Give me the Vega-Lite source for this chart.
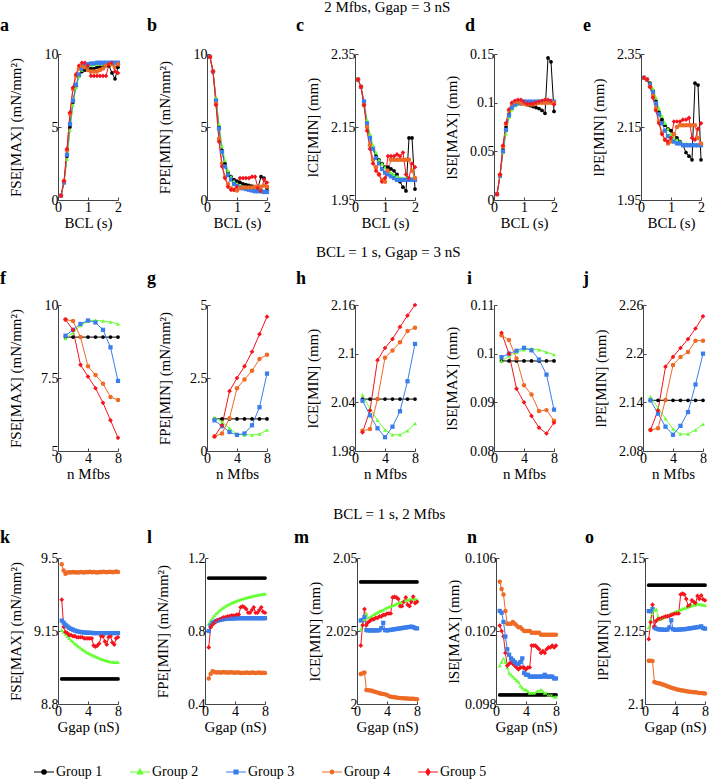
{
"$schema":"https://vega.github.io/schema/vega-lite/v6.json",
"background":"white",
"padding":{"left":0,"top":0,"right":0,"bottom":0},
"config":{
"view":{"stroke":null},
"font":"Liberation Serif, Times New Roman, serif",
"range":{"category":["#000000","#66FF33","#3A7DEB","#EE6A25","#F5141E"],"symbol":["circle","triangle-up","square","circle","diamond"]},
"axis":{"grid":false,"labelFont":"Liberation Serif, Times New Roman, serif","titleFont":"Liberation Serif, Times New Roman, serif","labelFontSize":14,"titleFontSize":15,"titleFontWeight":"normal","labelColor":"#000","titleColor":"#000","domainColor":"#444","tickColor":"#444","tickSize":-3,"labelPadding":3,"titlePadding":1,"labelExpr":"'' + datum.value","labelOverlap":false,"labelFlush":false},
"axisY":{"minExtent":32,"maxExtent":32,"titlePadding":3},
"line":{"strokeWidth":1},
"point":{"filled":true,"opacity":1},
"title":{"font":"Liberation Serif, Times New Roman, serif","fontSize":18,"fontWeight":"bold","anchor":"start","frame":"group","offset":10,"color":"#000"}
},
"datasets":{"d":[
{"p":"a","x":0.1,"g1":0.3,"g2":0.3,"g3":0.3,"g4":0.3,"g5":0.3},
{"p":"a","x":0.2,"g1":1.2,"g2":1.2,"g3":1.2,"g4":1.3,"g5":1.3},
{"p":"a","x":0.3,"g1":3.0,"g2":2.8,"g3":3.1,"g4":3.4,"g5":3.5},
{"p":"a","x":0.4,"g1":5.0,"g2":4.8,"g3":5.2,"g4":5.9,"g5":6.0},
{"p":"a","x":0.5,"g1":6.7,"g2":6.5,"g3":6.8,"g4":7.6,"g5":7.7},
{"p":"a","x":0.6,"g1":7.8,"g2":7.7,"g3":7.9,"g4":8.5,"g5":8.6},
{"p":"a","x":0.7,"g1":8.5,"g2":8.5,"g3":8.6,"g4":9.0,"g5":9.2},
{"p":"a","x":0.8,"g1":8.8,"g2":8.9,"g3":9.0,"g4":9.2,"g5":9.4},
{"p":"a","x":0.9,"g1":8.9,"g2":9.1,"g3":9.2,"g4":9.1,"g5":9.4},
{"p":"a","x":1.0,"g1":9.0,"g2":9.2,"g3":9.3,"g4":8.9,"g5":9.2},
{"p":"a","x":1.1,"g1":9.0,"g2":9.25,"g3":9.35,"g4":8.8,"g5":8.5},
{"p":"a","x":1.2,"g1":9.0,"g2":9.3,"g3":9.35,"g4":8.8,"g5":8.5},
{"p":"a","x":1.3,"g1":9.1,"g2":9.3,"g3":9.4,"g4":8.8,"g5":8.5},
{"p":"a","x":1.4,"g1":9.1,"g2":9.35,"g3":9.4,"g4":8.9,"g5":8.5},
{"p":"a","x":1.5,"g1":9.1,"g2":9.35,"g3":9.4,"g4":9.0,"g5":8.5},
{"p":"a","x":1.6,"g1":9.2,"g2":9.4,"g3":9.4,"g4":9.2,"g5":8.5},
{"p":"a","x":1.7,"g1":9.2,"g2":9.4,"g3":9.4,"g4":9.3,"g5":9.3},
{"p":"a","x":1.8,"g1":8.7,"g2":9.4,"g3":9.4,"g4":9.3,"g5":9.4},
{"p":"a","x":1.9,"g1":8.3,"g2":9.4,"g3":9.4,"g4":9.1,"g5":8.8},
{"p":"a","x":2.0,"g1":9.1,"g2":9.4,"g3":9.4,"g4":9.3,"g5":8.7},
{"p":"b","x":0.1,"g1":9.8,"g2":9.8,"g3":9.8,"g4":9.8,"g5":9.8},
{"p":"b","x":0.2,"g1":8.8,"g2":8.8,"g3":8.8,"g4":8.8,"g5":8.8},
{"p":"b","x":0.3,"g1":6.9,"g2":7.0,"g3":6.8,"g4":6.6,"g5":6.5},
{"p":"b","x":0.4,"g1":5.0,"g2":5.2,"g3":4.9,"g4":4.2,"g5":4.0},
{"p":"b","x":0.5,"g1":3.4,"g2":3.7,"g3":3.3,"g4":2.5,"g5":2.3},
{"p":"b","x":0.6,"g1":2.5,"g2":2.7,"g3":2.3,"g4":1.6,"g5":1.5},
{"p":"b","x":0.7,"g1":1.9,"g2":2.0,"g3":1.7,"g4":1.1,"g5":0.9},
{"p":"b","x":0.8,"g1":1.6,"g2":1.6,"g3":1.4,"g4":0.8,"g5":0.7},
{"p":"b","x":0.9,"g1":1.4,"g2":1.3,"g3":1.1,"g4":0.7,"g5":0.7},
{"p":"b","x":1.0,"g1":1.3,"g2":1.1,"g3":0.95,"g4":0.65,"g5":0.9},
{"p":"b","x":1.1,"g1":1.2,"g2":1.0,"g3":0.85,"g4":0.8,"g5":1.5},
{"p":"b","x":1.2,"g1":1.1,"g2":0.9,"g3":0.8,"g4":0.85,"g5":1.5},
{"p":"b","x":1.3,"g1":1.05,"g2":0.85,"g3":0.75,"g4":0.85,"g5":1.5},
{"p":"b","x":1.4,"g1":1.0,"g2":0.8,"g3":0.7,"g4":0.85,"g5":1.5},
{"p":"b","x":1.5,"g1":0.95,"g2":0.75,"g3":0.65,"g4":0.85,"g5":1.6},
{"p":"b","x":1.6,"g1":0.9,"g2":0.7,"g3":0.6,"g4":0.9,"g5":1.6},
{"p":"b","x":1.7,"g1":0.85,"g2":0.7,"g3":0.6,"g4":0.9,"g5":0.8},
{"p":"b","x":1.8,"g1":1.6,"g2":0.65,"g3":0.6,"g4":0.9,"g5":0.6},
{"p":"b","x":1.9,"g1":1.5,"g2":0.65,"g3":0.55,"g4":1.0,"g5":1.4},
{"p":"b","x":2.0,"g1":0.8,"g2":0.6,"g3":0.55,"g4":0.9,"g5":1.2},
{"p":"c","x":0.1,"g1":2.28,"g2":2.28,"g3":2.28,"g4":2.28,"g5":2.28},
{"p":"c","x":0.2,"g1":2.26,"g2":2.26,"g3":2.26,"g4":2.26,"g5":2.26},
{"p":"c","x":0.3,"g1":2.21,"g2":2.22,"g3":2.22,"g4":2.21,"g5":2.21},
{"p":"c","x":0.4,"g1":2.16,"g2":2.17,"g3":2.16,"g4":2.15,"g5":2.14},
{"p":"c","x":0.5,"g1":2.12,"g2":2.13,"g3":2.12,"g4":2.1,"g5":2.09},
{"p":"c","x":0.6,"g1":2.09,"g2":2.1,"g3":2.09,"g4":2.06,"g5":2.05},
{"p":"c","x":0.7,"g1":2.07,"g2":2.08,"g3":2.065,"g4":2.04,"g5":2.03},
{"p":"c","x":0.8,"g1":2.06,"g2":2.06,"g3":2.05,"g4":2.02,"g5":2.02},
{"p":"c","x":0.9,"g1":2.05,"g2":2.05,"g3":2.035,"g4":2.005,"g5":2.0},
{"p":"c","x":1.0,"g1":2.04,"g2":2.04,"g3":2.025,"g4":2.0,"g5":2.01},
{"p":"c","x":1.1,"g1":2.04,"g2":2.03,"g3":2.02,"g4":2.03,"g5":2.07},
{"p":"c","x":1.2,"g1":2.035,"g2":2.025,"g3":2.015,"g4":2.06,"g5":2.07},
{"p":"c","x":1.3,"g1":2.03,"g2":2.02,"g3":2.01,"g4":2.06,"g5":2.07},
{"p":"c","x":1.4,"g1":2.02,"g2":2.015,"g3":2.005,"g4":2.06,"g5":2.075},
{"p":"c","x":1.5,"g1":2.0,"g2":2.01,"g3":2.005,"g4":2.06,"g5":2.07},
{"p":"c","x":1.6,"g1":1.985,"g2":2.01,"g3":2.005,"g4":2.06,"g5":2.08},
{"p":"c","x":1.7,"g1":1.975,"g2":2.01,"g3":2.005,"g4":2.06,"g5":2.02},
{"p":"c","x":1.8,"g1":2.12,"g2":2.01,"g3":2.005,"g4":2.06,"g5":2.01},
{"p":"c","x":1.9,"g1":2.12,"g2":2.01,"g3":2.005,"g4":2.03,"g5":2.05},
{"p":"c","x":2.0,"g1":1.98,"g2":2.01,"g3":2.005,"g4":2.01,"g5":2.04},
{"p":"d","x":0.1,"g1":0.006,"g2":0.006,"g3":0.006,"g4":0.006,"g5":0.006},
{"p":"d","x":0.2,"g1":0.025,"g2":0.024,"g3":0.025,"g4":0.026,"g5":0.026},
{"p":"d","x":0.3,"g1":0.052,"g2":0.049,"g3":0.05,"g4":0.055,"g5":0.056},
{"p":"d","x":0.4,"g1":0.075,"g2":0.068,"g3":0.072,"g4":0.078,"g5":0.079},
{"p":"d","x":0.5,"g1":0.088,"g2":0.085,"g3":0.087,"g4":0.092,"g5":0.093},
{"p":"d","x":0.6,"g1":0.095,"g2":0.093,"g3":0.095,"g4":0.099,"g5":0.1},
{"p":"d","x":0.7,"g1":0.098,"g2":0.097,"g3":0.098,"g4":0.101,"g5":0.102},
{"p":"d","x":0.8,"g1":0.099,"g2":0.099,"g3":0.1,"g4":0.101,"g5":0.103},
{"p":"d","x":0.9,"g1":0.099,"g2":0.1,"g3":0.1,"g4":0.1,"g5":0.103},
{"p":"d","x":1.0,"g1":0.099,"g2":0.1,"g3":0.101,"g4":0.099,"g5":0.101},
{"p":"d","x":1.1,"g1":0.098,"g2":0.1,"g3":0.101,"g4":0.098,"g5":0.099},
{"p":"d","x":1.2,"g1":0.097,"g2":0.1,"g3":0.101,"g4":0.098,"g5":0.099},
{"p":"d","x":1.3,"g1":0.096,"g2":0.1,"g3":0.101,"g4":0.098,"g5":0.099},
{"p":"d","x":1.4,"g1":0.095,"g2":0.101,"g3":0.101,"g4":0.099,"g5":0.1},
{"p":"d","x":1.5,"g1":0.094,"g2":0.101,"g3":0.101,"g4":0.1,"g5":0.101},
{"p":"d","x":1.6,"g1":0.092,"g2":0.101,"g3":0.101,"g4":0.1,"g5":0.102},
{"p":"d","x":1.7,"g1":0.089,"g2":0.101,"g3":0.101,"g4":0.1,"g5":0.103},
{"p":"d","x":1.8,"g1":0.146,"g2":0.101,"g3":0.101,"g4":0.1,"g5":0.103},
{"p":"d","x":1.9,"g1":0.142,"g2":0.101,"g3":0.101,"g4":0.1,"g5":0.102},
{"p":"d","x":2.0,"g1":0.091,"g2":0.101,"g3":0.101,"g4":0.1,"g5":0.098},
{"p":"e","x":0.1,"g1":2.285,"g2":2.285,"g3":2.285,"g4":2.285,"g5":2.285},
{"p":"e","x":0.2,"g1":2.28,"g2":2.28,"g3":2.28,"g4":2.28,"g5":2.28},
{"p":"e","x":0.3,"g1":2.27,"g2":2.27,"g3":2.265,"g4":2.26,"g5":2.26},
{"p":"e","x":0.4,"g1":2.25,"g2":2.255,"g3":2.245,"g4":2.235,"g5":2.23},
{"p":"e","x":0.5,"g1":2.22,"g2":2.23,"g3":2.215,"g4":2.2,"g5":2.195},
{"p":"e","x":0.6,"g1":2.19,"g2":2.2,"g3":2.185,"g4":2.165,"g5":2.16},
{"p":"e","x":0.7,"g1":2.17,"g2":2.18,"g3":2.16,"g4":2.135,"g5":2.13},
{"p":"e","x":0.8,"g1":2.155,"g2":2.16,"g3":2.14,"g4":2.115,"g5":2.115},
{"p":"e","x":0.9,"g1":2.145,"g2":2.145,"g3":2.125,"g4":2.105,"g5":2.11},
{"p":"e","x":1.0,"g1":2.14,"g2":2.13,"g3":2.115,"g4":2.11,"g5":2.12},
{"p":"e","x":1.1,"g1":2.13,"g2":2.12,"g3":2.11,"g4":2.13,"g5":2.165},
{"p":"e","x":1.2,"g1":2.12,"g2":2.115,"g3":2.105,"g4":2.15,"g5":2.165},
{"p":"e","x":1.3,"g1":2.11,"g2":2.11,"g3":2.105,"g4":2.155,"g5":2.165},
{"p":"e","x":1.4,"g1":2.1,"g2":2.105,"g3":2.1,"g4":2.155,"g5":2.17},
{"p":"e","x":1.5,"g1":2.08,"g2":2.105,"g3":2.1,"g4":2.155,"g5":2.17},
{"p":"e","x":1.6,"g1":2.07,"g2":2.1,"g3":2.1,"g4":2.155,"g5":2.175},
{"p":"e","x":1.7,"g1":2.06,"g2":2.1,"g3":2.1,"g4":2.155,"g5":2.12},
{"p":"e","x":1.8,"g1":2.27,"g2":2.1,"g3":2.1,"g4":2.155,"g5":2.115},
{"p":"e","x":1.9,"g1":2.265,"g2":2.1,"g3":2.1,"g4":2.12,"g5":2.145},
{"p":"e","x":2.0,"g1":2.06,"g2":2.1,"g3":2.1,"g4":2.105,"g5":2.16},
{"p":"f","x":1,"g1":8.9,"g2":8.85,"g3":8.95,"g4":9.5,"g5":9.5},
{"p":"f","x":2,"g1":8.9,"g2":9.05,"g3":9.15,"g4":9.45,"g5":9.15},
{"p":"f","x":3,"g1":8.9,"g2":9.3,"g3":9.35,"g4":8.9,"g5":7.95},
{"p":"f","x":4,"g1":8.9,"g2":9.45,"g3":9.47,"g4":7.9,"g5":7.55},
{"p":"f","x":5,"g1":8.9,"g2":9.48,"g3":9.4,"g4":7.6,"g5":7.15},
{"p":"f","x":6,"g1":8.9,"g2":9.45,"g3":9.15,"g4":7.3,"g5":6.65},
{"p":"f","x":7,"g1":8.9,"g2":9.42,"g3":8.55,"g4":6.85,"g5":6.05},
{"p":"f","x":8,"g1":8.9,"g2":9.35,"g3":7.4,"g4":6.75,"g5":5.45},
{"p":"g","x":1,"g1":1.1,"g2":1.15,"g3":1.05,"g4":0.5,"g5":0.5},
{"p":"g","x":2,"g1":1.1,"g2":1.0,"g3":0.85,"g4":0.6,"g5":0.88},
{"p":"g","x":3,"g1":1.1,"g2":0.78,"g3":0.65,"g4":1.12,"g5":2.05},
{"p":"g","x":4,"g1":1.1,"g2":0.58,"g3":0.55,"g4":2.15,"g5":2.5},
{"p":"g","x":5,"g1":1.1,"g2":0.55,"g3":0.6,"g4":2.45,"g5":2.9},
{"p":"g","x":6,"g1":1.1,"g2":0.55,"g3":0.88,"g4":2.75,"g5":3.4},
{"p":"g","x":7,"g1":1.1,"g2":0.58,"g3":1.5,"g4":3.15,"g5":4.0},
{"p":"g","x":8,"g1":1.1,"g2":0.72,"g3":2.65,"g4":3.3,"g5":4.6},
{"p":"h","x":1,"g1":2.044,"g2":2.049,"g3":2.042,"g4":2.005,"g5":2.003},
{"p":"h","x":2,"g1":2.044,"g2":2.032,"g3":2.024,"g4":2.007,"g5":2.03},
{"p":"h","x":3,"g1":2.044,"g2":2.018,"g3":2.008,"g4":2.044,"g5":2.092},
{"p":"h","x":4,"g1":2.044,"g2":2.006,"g3":1.997,"g4":2.095,"g5":2.107},
{"p":"h","x":5,"g1":2.044,"g2":2.0,"g3":2.01,"g4":2.104,"g5":2.118},
{"p":"h","x":6,"g1":2.044,"g2":2.0,"g3":2.029,"g4":2.114,"g5":2.133},
{"p":"h","x":7,"g1":2.044,"g2":2.005,"g3":2.066,"g4":2.128,"g5":2.147},
{"p":"h","x":8,"g1":2.044,"g2":2.014,"g3":2.112,"g4":2.132,"g5":2.16},
{"p":"i","x":1,"g1":0.0985,"g2":0.0985,"g3":0.0993,"g4":0.1038,"g5":0.1043},
{"p":"i","x":2,"g1":0.0985,"g2":0.0995,"g3":0.1,"g4":0.1028,"g5":0.1},
{"p":"i","x":3,"g1":0.0985,"g2":0.1003,"g3":0.1006,"g4":0.099,"g5":0.0928},
{"p":"i","x":4,"g1":0.0985,"g2":0.1008,"g3":0.1012,"g4":0.0935,"g5":0.09},
{"p":"i","x":5,"g1":0.0985,"g2":0.101,"g3":0.1007,"g4":0.0916,"g5":0.0872},
{"p":"i","x":6,"g1":0.0985,"g2":0.1008,"g3":0.0988,"g4":0.0882,"g5":0.0848},
{"p":"i","x":7,"g1":0.0985,"g2":0.1003,"g3":0.0957,"g4":0.0884,"g5":0.0836},
{"p":"i","x":8,"g1":0.0985,"g2":0.0998,"g3":0.0885,"g4":0.0862,"g5":0.0858},
{"p":"j","x":1,"g1":2.1425,"g2":2.147,"g3":2.1425,"g4":2.106,"g5":2.106},
{"p":"j","x":2,"g1":2.1425,"g2":2.133,"g3":2.126,"g4":2.108,"g5":2.13},
{"p":"j","x":3,"g1":2.1425,"g2":2.12,"g3":2.11,"g4":2.143,"g5":2.184},
{"p":"j","x":4,"g1":2.1425,"g2":2.107,"g3":2.1,"g4":2.186,"g5":2.196},
{"p":"j","x":5,"g1":2.1425,"g2":2.101,"g3":2.111,"g4":2.196,"g5":2.207},
{"p":"j","x":6,"g1":2.1425,"g2":2.101,"g3":2.128,"g4":2.202,"g5":2.218},
{"p":"j","x":7,"g1":2.1425,"g2":2.106,"g3":2.162,"g4":2.216,"g5":2.231},
{"p":"j","x":8,"g1":2.1425,"g2":2.113,"g3":2.2,"g4":2.216,"g5":2.246},
{"p":"k","x":0.5,"g1":8.92,"g2":9.155,"g3":9.2,"g4":9.47,"g5":9.3},
{"p":"k","x":0.75,"g1":8.92,"g2":9.145,"g3":9.19,"g4":9.44,"g5":9.17},
{"p":"k","x":1,"g1":8.92,"g2":9.135,"g3":9.18,"g4":9.425,"g5":9.145},
{"p":"k","x":1.25,"g1":8.92,"g2":9.125,"g3":9.172,"g4":9.43,"g5":9.14},
{"p":"k","x":1.5,"g1":8.92,"g2":9.115,"g3":9.165,"g4":9.432,"g5":9.13},
{"p":"k","x":1.75,"g1":8.92,"g2":9.105,"g3":9.16,"g4":9.43,"g5":9.13},
{"p":"k","x":2,"g1":8.92,"g2":9.098,"g3":9.156,"g4":9.433,"g5":9.125},
{"p":"k","x":2.25,"g1":8.92,"g2":9.09,"g3":9.152,"g4":9.431,"g5":9.125},
{"p":"k","x":2.5,"g1":8.92,"g2":9.083,"g3":9.149,"g4":9.432,"g5":9.12},
{"p":"k","x":2.75,"g1":8.92,"g2":9.076,"g3":9.147,"g4":9.43,"g5":9.12},
{"p":"k","x":3,"g1":8.92,"g2":9.07,"g3":9.145,"g4":9.433,"g5":9.12},
{"p":"k","x":3.25,"g1":8.92,"g2":9.063,"g3":9.144,"g4":9.432,"g5":9.12},
{"p":"k","x":3.5,"g1":8.92,"g2":9.057,"g3":9.143,"g4":9.431,"g5":9.115},
{"p":"k","x":3.75,"g1":8.92,"g2":9.051,"g3":9.142,"g4":9.433,"g5":9.115},
{"p":"k","x":4,"g1":8.92,"g2":9.046,"g3":9.142,"g4":9.432,"g5":9.115},
{"p":"k","x":4.25,"g1":8.92,"g2":9.041,"g3":9.141,"g4":9.434,"g5":9.115},
{"p":"k","x":4.5,"g1":8.92,"g2":9.036,"g3":9.141,"g4":9.432,"g5":9.115},
{"p":"k","x":4.75,"g1":8.92,"g2":9.032,"g3":9.14,"g4":9.433,"g5":9.08},
{"p":"k","x":5,"g1":8.92,"g2":9.028,"g3":9.14,"g4":9.432,"g5":9.075},
{"p":"k","x":5.25,"g1":8.92,"g2":9.024,"g3":9.14,"g4":9.431,"g5":9.08},
{"p":"k","x":5.5,"g1":8.92,"g2":9.02,"g3":9.14,"g4":9.433,"g5":9.09},
{"p":"k","x":5.75,"g1":8.92,"g2":9.016,"g3":9.14,"g4":9.432,"g5":9.125},
{"p":"k","x":6,"g1":8.92,"g2":9.013,"g3":9.14,"g4":9.434,"g5":9.125},
{"p":"k","x":6.25,"g1":8.92,"g2":9.01,"g3":9.14,"g4":9.433,"g5":9.1},
{"p":"k","x":6.5,"g1":8.92,"g2":9.007,"g3":9.14,"g4":9.432,"g5":9.085},
{"p":"k","x":6.75,"g1":8.92,"g2":9.005,"g3":9.14,"g4":9.433,"g5":9.12},
{"p":"k","x":7,"g1":8.92,"g2":9.003,"g3":9.14,"g4":9.434,"g5":9.125},
{"p":"k","x":7.25,"g1":8.92,"g2":9.002,"g3":9.14,"g4":9.432,"g5":9.095},
{"p":"k","x":7.5,"g1":8.92,"g2":9.001,"g3":9.14,"g4":9.433,"g5":9.085},
{"p":"k","x":7.75,"g1":8.92,"g2":9.0,"g3":9.14,"g4":9.435,"g5":9.115},
{"p":"k","x":8,"g1":8.92,"g2":9.0,"g3":9.14,"g4":9.433,"g5":9.12},
{"p":"l","x":0.5,"g1":1.09,"g2":0.84,"g3":0.8,"g4":0.54,"g5":0.71},
{"p":"l","x":0.75,"g1":1.09,"g2":0.857,"g3":0.83,"g4":0.565,"g5":0.82},
{"p":"l","x":1,"g1":1.09,"g2":0.872,"g3":0.845,"g4":0.58,"g5":0.835},
{"p":"l","x":1.25,"g1":1.09,"g2":0.885,"g3":0.85,"g4":0.575,"g5":0.845},
{"p":"l","x":1.5,"g1":1.09,"g2":0.896,"g3":0.855,"g4":0.573,"g5":0.855},
{"p":"l","x":1.75,"g1":1.09,"g2":0.906,"g3":0.858,"g4":0.574,"g5":0.86},
{"p":"l","x":2,"g1":1.09,"g2":0.915,"g3":0.861,"g4":0.572,"g5":0.865},
{"p":"l","x":2.25,"g1":1.09,"g2":0.923,"g3":0.863,"g4":0.573,"g5":0.87},
{"p":"l","x":2.5,"g1":1.09,"g2":0.93,"g3":0.865,"g4":0.575,"g5":0.875},
{"p":"l","x":2.75,"g1":1.09,"g2":0.937,"g3":0.866,"g4":0.572,"g5":0.875},
{"p":"l","x":3,"g1":1.09,"g2":0.943,"g3":0.867,"g4":0.573,"g5":0.88},
{"p":"l","x":3.25,"g1":1.09,"g2":0.948,"g3":0.868,"g4":0.572,"g5":0.88},
{"p":"l","x":3.5,"g1":1.09,"g2":0.953,"g3":0.868,"g4":0.574,"g5":0.885},
{"p":"l","x":3.75,"g1":1.09,"g2":0.958,"g3":0.869,"g4":0.572,"g5":0.885},
{"p":"l","x":4,"g1":1.09,"g2":0.962,"g3":0.869,"g4":0.571,"g5":0.885},
{"p":"l","x":4.25,"g1":1.09,"g2":0.966,"g3":0.87,"g4":0.573,"g5":0.89},
{"p":"l","x":4.5,"g1":1.09,"g2":0.97,"g3":0.87,"g4":0.572,"g5":0.89},
{"p":"l","x":4.75,"g1":1.09,"g2":0.973,"g3":0.87,"g4":0.57,"g5":0.93},
{"p":"l","x":5,"g1":1.09,"g2":0.976,"g3":0.87,"g4":0.571,"g5":0.935},
{"p":"l","x":5.25,"g1":1.09,"g2":0.979,"g3":0.87,"g4":0.57,"g5":0.93},
{"p":"l","x":5.5,"g1":1.09,"g2":0.982,"g3":0.87,"g4":0.572,"g5":0.92},
{"p":"l","x":5.75,"g1":1.09,"g2":0.985,"g3":0.87,"g4":0.571,"g5":0.9},
{"p":"l","x":6,"g1":1.09,"g2":0.988,"g3":0.87,"g4":0.57,"g5":0.9},
{"p":"l","x":6.25,"g1":1.09,"g2":0.99,"g3":0.87,"g4":0.572,"g5":0.915},
{"p":"l","x":6.5,"g1":1.09,"g2":0.993,"g3":0.87,"g4":0.571,"g5":0.93},
{"p":"l","x":6.75,"g1":1.09,"g2":0.995,"g3":0.87,"g4":0.57,"g5":0.9},
{"p":"l","x":7,"g1":1.09,"g2":0.997,"g3":0.87,"g4":0.571,"g5":0.9},
{"p":"l","x":7.25,"g1":1.09,"g2":0.999,"g3":0.87,"g4":0.572,"g5":0.915},
{"p":"l","x":7.5,"g1":1.09,"g2":1.001,"g3":0.87,"g4":0.57,"g5":0.93},
{"p":"l","x":7.75,"g1":1.09,"g2":1.003,"g3":0.87,"g4":0.571,"g5":0.905},
{"p":"l","x":8,"g1":1.09,"g2":1.004,"g3":0.87,"g4":0.57,"g5":0.9},
{"p":"m","x":0.5,"g1":2.0418,"g2":2.0255,"g3":2.0286,"g4":2.0103,"g5":2.02},
{"p":"m","x":0.75,"g1":2.0418,"g2":2.027,"g3":2.0288,"g4":2.0105,"g5":2.027},
{"p":"m","x":1,"g1":2.0418,"g2":2.029,"g3":2.0298,"g4":2.0108,"g5":2.0325},
{"p":"m","x":1.25,"g1":2.0418,"g2":2.031,"g3":2.0253,"g4":2.0048,"g5":2.027},
{"p":"m","x":1.5,"g1":2.0418,"g2":2.0295,"g3":2.0252,"g4":2.0047,"g5":2.028},
{"p":"m","x":1.75,"g1":2.0418,"g2":2.0298,"g3":2.0252,"g4":2.0046,"g5":2.0285},
{"p":"m","x":2,"g1":2.0418,"g2":2.0302,"g3":2.0252,"g4":2.0045,"g5":2.029},
{"p":"m","x":2.25,"g1":2.0418,"g2":2.0307,"g3":2.0252,"g4":2.0043,"g5":2.029},
{"p":"m","x":2.5,"g1":2.0418,"g2":2.031,"g3":2.0252,"g4":2.0041,"g5":2.0295},
{"p":"m","x":2.75,"g1":2.0418,"g2":2.0314,"g3":2.0252,"g4":2.0039,"g5":2.0295},
{"p":"m","x":3,"g1":2.0418,"g2":2.0318,"g3":2.0253,"g4":2.0037,"g5":2.03},
{"p":"m","x":3.25,"g1":2.0418,"g2":2.032,"g3":2.026,"g4":2.0035,"g5":2.03},
{"p":"m","x":3.5,"g1":2.0418,"g2":2.0323,"g3":2.0278,"g4":2.0034,"g5":2.0305},
{"p":"m","x":3.75,"g1":2.0418,"g2":2.0327,"g3":2.0253,"g4":2.0033,"g5":2.0305},
{"p":"m","x":4,"g1":2.0418,"g2":2.033,"g3":2.0252,"g4":2.0031,"g5":2.031},
{"p":"m","x":4.25,"g1":2.0418,"g2":2.0333,"g3":2.0253,"g4":2.0027,"g5":2.031},
{"p":"m","x":4.5,"g1":2.0418,"g2":2.0335,"g3":2.0254,"g4":2.0025,"g5":2.031},
{"p":"m","x":4.75,"g1":2.0418,"g2":2.0338,"g3":2.0255,"g4":2.0024,"g5":2.0365},
{"p":"m","x":5,"g1":2.0418,"g2":2.034,"g3":2.0256,"g4":2.0023,"g5":2.0367},
{"p":"m","x":5.25,"g1":2.0418,"g2":2.0343,"g3":2.0257,"g4":2.0022,"g5":2.0365},
{"p":"m","x":5.5,"g1":2.0418,"g2":2.0345,"g3":2.0258,"g4":2.0021,"g5":2.036},
{"p":"m","x":5.75,"g1":2.0418,"g2":2.0348,"g3":2.0259,"g4":2.0021,"g5":2.0335},
{"p":"m","x":6,"g1":2.0418,"g2":2.035,"g3":2.026,"g4":2.002,"g5":2.0335},
{"p":"m","x":6.25,"g1":2.0418,"g2":2.0352,"g3":2.0261,"g4":2.002,"g5":2.035},
{"p":"m","x":6.5,"g1":2.0418,"g2":2.0355,"g3":2.0262,"g4":2.0019,"g5":2.0365},
{"p":"m","x":6.75,"g1":2.0418,"g2":2.0357,"g3":2.0263,"g4":2.0019,"g5":2.034},
{"p":"m","x":7,"g1":2.0418,"g2":2.0358,"g3":2.0264,"g4":2.0018,"g5":2.0335},
{"p":"m","x":7.25,"g1":2.0418,"g2":2.036,"g3":2.0265,"g4":2.0018,"g5":2.035},
{"p":"m","x":7.5,"g1":2.0418,"g2":2.036,"g3":2.0263,"g4":2.0018,"g5":2.0368},
{"p":"m","x":7.75,"g1":2.0418,"g2":2.036,"g3":2.026,"g4":2.0017,"g5":2.0345},
{"p":"m","x":8,"g1":2.0418,"g2":2.0358,"g3":2.0259,"g4":2.0016,"g5":2.035},
{"p":"n","x":0.5,"g1":0.0985,"g2":0.1001,"g3":0.1031,"g4":0.1047,"g5":0.1023},
{"p":"n","x":0.75,"g1":0.0985,"g2":0.1003,"g3":0.103,"g4":0.1043,"g5":0.102},
{"p":"n","x":1,"g1":0.0985,"g2":0.1005,"g3":0.1025,"g4":0.104,"g5":0.1017},
{"p":"n","x":1.25,"g1":0.0985,"g2":0.1003,"g3":0.1017,"g4":0.1031,"g5":0.1008},
{"p":"n","x":1.5,"g1":0.0985,"g2":0.1,"g3":0.101,"g4":0.1024,"g5":0.1001},
{"p":"n","x":1.75,"g1":0.0985,"g2":0.0997,"g3":0.1007,"g4":0.1024,"g5":0.1002},
{"p":"n","x":2,"g1":0.0985,"g2":0.0996,"g3":0.1005,"g4":0.1024,"g5":0.1003},
{"p":"n","x":2.25,"g1":0.0985,"g2":0.0995,"g3":0.1004,"g4":0.1025,"g5":0.1002},
{"p":"n","x":2.5,"g1":0.0985,"g2":0.0994,"g3":0.1003,"g4":0.1024,"g5":0.1001},
{"p":"n","x":2.75,"g1":0.0985,"g2":0.0993,"g3":0.1002,"g4":0.1023,"g5":0.1},
{"p":"n","x":3,"g1":0.0985,"g2":0.0992,"g3":0.1002,"g4":0.1022,"g5":0.0999},
{"p":"n","x":3.25,"g1":0.0985,"g2":0.099,"g3":0.1003,"g4":0.1022,"g5":0.1},
{"p":"n","x":3.5,"g1":0.0985,"g2":0.0989,"g3":0.1005,"g4":0.1021,"g5":0.1},
{"p":"n","x":3.75,"g1":0.0985,"g2":0.0988,"g3":0.0997,"g4":0.102,"g5":0.1},
{"p":"n","x":4,"g1":0.0985,"g2":0.0988,"g3":0.0996,"g4":0.102,"g5":0.0999},
{"p":"n","x":4.25,"g1":0.0985,"g2":0.0987,"g3":0.0996,"g4":0.102,"g5":0.1},
{"p":"n","x":4.5,"g1":0.0985,"g2":0.0986,"g3":0.0995,"g4":0.102,"g5":0.1},
{"p":"n","x":4.75,"g1":0.0985,"g2":0.0986,"g3":0.0995,"g4":0.1019,"g5":0.1012},
{"p":"n","x":5,"g1":0.0985,"g2":0.0986,"g3":0.0995,"g4":0.1019,"g5":0.1012},
{"p":"n","x":5.25,"g1":0.0985,"g2":0.0986,"g3":0.0995,"g4":0.1019,"g5":0.1012},
{"p":"n","x":5.5,"g1":0.0985,"g2":0.0987,"g3":0.0995,"g4":0.1019,"g5":0.1011},
{"p":"n","x":5.75,"g1":0.0985,"g2":0.0987,"g3":0.0995,"g4":0.1019,"g5":0.101},
{"p":"n","x":6,"g1":0.0985,"g2":0.0988,"g3":0.0995,"g4":0.1018,"g5":0.1008},
{"p":"n","x":6.25,"g1":0.0985,"g2":0.0987,"g3":0.0995,"g4":0.1018,"g5":0.1009},
{"p":"n","x":6.5,"g1":0.0985,"g2":0.0986,"g3":0.0996,"g4":0.1018,"g5":0.1008},
{"p":"n","x":6.75,"g1":0.0985,"g2":0.0986,"g3":0.0995,"g4":0.1018,"g5":0.101},
{"p":"n","x":7,"g1":0.0985,"g2":0.0985,"g3":0.0995,"g4":0.1018,"g5":0.1011},
{"p":"n","x":7.25,"g1":0.0985,"g2":0.0985,"g3":0.0995,"g4":0.1018,"g5":0.1011},
{"p":"n","x":7.5,"g1":0.0985,"g2":0.0985,"g3":0.0995,"g4":0.1018,"g5":0.1012},
{"p":"n","x":7.75,"g1":0.0985,"g2":0.0984,"g3":0.0994,"g4":0.1018,"g5":0.1011},
{"p":"n","x":8,"g1":0.0985,"g2":0.0984,"g3":0.0994,"g4":0.1018,"g5":0.1012},
{"p":"o","x":0.5,"g1":2.1407,"g2":2.1262,"g3":2.1318,"g4":2.1148,"g5":2.1222},
{"p":"o","x":0.75,"g1":2.1407,"g2":2.129,"g3":2.1318,"g4":2.1148,"g5":2.128},
{"p":"o","x":1,"g1":2.1407,"g2":2.131,"g3":2.1325,"g4":2.1147,"g5":2.134},
{"p":"o","x":1.25,"g1":2.1407,"g2":2.1322,"g3":2.1262,"g4":2.1075,"g5":2.1265},
{"p":"o","x":1.5,"g1":2.1407,"g2":2.1325,"g3":2.1258,"g4":2.1073,"g5":2.1285},
{"p":"o","x":1.75,"g1":2.1407,"g2":2.13,"g3":2.1256,"g4":2.1071,"g5":2.129},
{"p":"o","x":2,"g1":2.1407,"g2":2.129,"g3":2.1255,"g4":2.107,"g5":2.1292},
{"p":"o","x":2.25,"g1":2.1407,"g2":2.1293,"g3":2.1255,"g4":2.1068,"g5":2.1295},
{"p":"o","x":2.5,"g1":2.1407,"g2":2.1297,"g3":2.1254,"g4":2.1066,"g5":2.1297},
{"p":"o","x":2.75,"g1":2.1407,"g2":2.13,"g3":2.1254,"g4":2.1063,"g5":2.13},
{"p":"o","x":3,"g1":2.1407,"g2":2.1303,"g3":2.1255,"g4":2.1061,"g5":2.13},
{"p":"o","x":3.25,"g1":2.1407,"g2":2.1306,"g3":2.1262,"g4":2.1058,"g5":2.1302},
{"p":"o","x":3.5,"g1":2.1407,"g2":2.1309,"g3":2.1287,"g4":2.1056,"g5":2.1305},
{"p":"o","x":3.75,"g1":2.1407,"g2":2.1312,"g3":2.1256,"g4":2.1054,"g5":2.1307},
{"p":"o","x":4,"g1":2.1407,"g2":2.1315,"g3":2.1254,"g4":2.1052,"g5":2.131},
{"p":"o","x":4.25,"g1":2.1407,"g2":2.1318,"g3":2.1254,"g4":2.105,"g5":2.131},
{"p":"o","x":4.5,"g1":2.1407,"g2":2.132,"g3":2.1255,"g4":2.1049,"g5":2.131},
{"p":"o","x":4.75,"g1":2.1407,"g2":2.1323,"g3":2.1255,"g4":2.1047,"g5":2.1375},
{"p":"o","x":5,"g1":2.1407,"g2":2.1326,"g3":2.1256,"g4":2.1046,"g5":2.1378},
{"p":"o","x":5.25,"g1":2.1407,"g2":2.1328,"g3":2.1256,"g4":2.1045,"g5":2.1375},
{"p":"o","x":5.5,"g1":2.1407,"g2":2.133,"g3":2.1257,"g4":2.1044,"g5":2.136},
{"p":"o","x":5.75,"g1":2.1407,"g2":2.1333,"g3":2.1258,"g4":2.1043,"g5":2.1335},
{"p":"o","x":6,"g1":2.1407,"g2":2.1335,"g3":2.1259,"g4":2.1042,"g5":2.1338},
{"p":"o","x":6.25,"g1":2.1407,"g2":2.1337,"g3":2.126,"g4":2.1041,"g5":2.1355},
{"p":"o","x":6.5,"g1":2.1407,"g2":2.1339,"g3":2.1261,"g4":2.104,"g5":2.135},
{"p":"o","x":6.75,"g1":2.1407,"g2":2.134,"g3":2.1262,"g4":2.104,"g5":2.1345},
{"p":"o","x":7,"g1":2.1407,"g2":2.1342,"g3":2.1263,"g4":2.1039,"g5":2.137},
{"p":"o","x":7.25,"g1":2.1407,"g2":2.1342,"g3":2.1264,"g4":2.1038,"g5":2.136},
{"p":"o","x":7.5,"g1":2.1407,"g2":2.1341,"g3":2.1266,"g4":2.1038,"g5":2.1372},
{"p":"o","x":7.75,"g1":2.1407,"g2":2.134,"g3":2.126,"g4":2.1037,"g5":2.1358},
{"p":"o","x":8,"g1":2.1407,"g2":2.1338,"g3":2.1258,"g4":2.1036,"g5":2.1355}
]},
"spacing":26,
"vconcat":[
{"spacing":15,"vconcat":[
{"title":{"text":"2 Mfbs, Ggap = 3 nS","anchor":"middle","frame":"bounds","fontSize":15,"fontWeight":"normal","dx":35,"offset":2},
 "spacing":25,
 "hconcat":[
   {"width":60,"height":146,"title":{"text":"a","dx":-58,"offset":12},"data":{"name":"d"},
    "transform":[{"filter":"datum.p==='a'"},{"fold":["g1","g2","g3","g4","g5"],"as":["g","v"]}],
    "encoding":{"x":{"field":"x","type":"quantitative","scale":{"domain":[0,2],"nice":false},"axis":{"values":[0,1,2],"title":"BCL (s)"}},
     "y":{"field":"v","type":"quantitative","scale":{"domain":[0,10],"nice":false,"zero":false},"axis":{"values":[0,5,10],"title":"FSE[MAX] (mN/mm²)"}},
     "color":{"field":"g","type":"nominal","legend":{"orient":"none","legendX":-25,"legendY":707,"direction":"horizontal","columns":5,"title":null,"symbolSize":400,"labelFont":"Liberation Serif, Times New Roman, serif","labelFontSize":14,"labelOffset":1,"columnPadding":24,"labelExpr":"'Group ' + slice(datum.label, 1)",
      "encode":{"symbols":{"update":{
       "shape":{"signal":"datum.value==='g1'?'M-1,0H1M0.22,0A0.22,0.22,0,1,1,-0.22,0A0.22,0.22,0,1,1,0.22,0Z':datum.value==='g2'?'M-1,0H1M0,-0.3L0.28,0.2L-0.28,0.2Z':datum.value==='g3'?'M-1,0H1M-0.2,-0.2H0.2V0.2H-0.2Z':datum.value==='g4'?'M-1,0H1M0.18,0A0.18,0.18,0,1,1,-0.18,0A0.18,0.18,0,1,1,0.18,0Z':'M-1,0H1M0,-0.32L0.22,0L0,0.32L-0.22,0Z'"},
       "fill":{"signal":"datum.value==='g1'?'#000000':datum.value==='g2'?'#66FF33':datum.value==='g3'?'#3A7DEB':datum.value==='g4'?'#EE6A25':'#F5141E'"},
       "stroke":{"signal":"datum.value==='g1'?'#000000':datum.value==='g2'?'#66FF33':datum.value==='g3'?'#3A7DEB':datum.value==='g4'?'#EE6A25':'#F5141E'"},
       "strokeWidth":{"value":1.2},"opacity":{"value":1},"fillOpacity":{"value":1},"strokeOpacity":{"value":1}}}}}}},
    "layer":[{"mark":{"type":"line"}},{"mark":{"type":"point"},"encoding":{"shape":{"field":"g","type":"nominal","legend":null},"size":{"field":"g","type":"ordinal","scale":{"range":[14,22,14,8,28]},"legend":null}}}]},
   {"width":60,"height":146,"title":{"text":"b","dx":-60,"offset":12},"data":{"name":"d"},
    "transform":[{"filter":"datum.p==='b'"},{"fold":["g1","g2","g3","g4","g5"],"as":["g","v"]}],
    "encoding":{"x":{"field":"x","type":"quantitative","scale":{"domain":[0,2],"nice":false},"axis":{"values":[0,1,2],"title":"BCL (s)"}},
     "y":{"field":"v","type":"quantitative","scale":{"domain":[0,10],"nice":false,"zero":false},"axis":{"values":[0,5,10],"title":"FPE[MIN] (mN/mm²)"}},
     "color":{"field":"g","type":"nominal","legend":null}},
    "layer":[{"mark":{"type":"line"}},{"mark":{"type":"point"},"encoding":{"shape":{"field":"g","type":"nominal","legend":null},"size":{"field":"g","type":"ordinal","scale":{"range":[14,22,14,8,28]},"legend":null}}}]},
   {"width":60,"height":146,"title":{"text":"c","dx":-59,"offset":12},"data":{"name":"d"},
    "transform":[{"filter":"datum.p==='c'"},{"fold":["g1","g2","g3","g4","g5"],"as":["g","v"]}],
    "encoding":{"x":{"field":"x","type":"quantitative","scale":{"domain":[0,2],"nice":false},"axis":{"values":[0,1,2],"title":"BCL (s)"}},
     "y":{"field":"v","type":"quantitative","scale":{"domain":[1.95,2.35],"nice":false,"zero":false},"axis":{"values":[1.95,2.15,2.35],"title":"lCE[MIN] (mm)"}},
     "color":{"field":"g","type":"nominal","legend":null}},
    "layer":[{"mark":{"type":"line"}},{"mark":{"type":"point"},"encoding":{"shape":{"field":"g","type":"nominal","legend":null},"size":{"field":"g","type":"ordinal","scale":{"range":[14,22,14,8,28]},"legend":null}}}]},
   {"width":60,"height":146,"title":{"text":"d","dx":-29,"offset":12},"data":{"name":"d"},
    "transform":[{"filter":"datum.p==='d'"},{"fold":["g1","g2","g3","g4","g5"],"as":["g","v"]}],
    "encoding":{"x":{"field":"x","type":"quantitative","scale":{"domain":[0,2],"nice":false},"axis":{"values":[0,1,2],"title":"BCL (s)"}},
     "y":{"field":"v","type":"quantitative","scale":{"domain":[0,0.15],"nice":false,"zero":false},"axis":{"values":[0,0.05,0.1,0.15],"title":"lSE[MAX] (mm)"}},
     "color":{"field":"g","type":"nominal","legend":null}},
    "layer":[{"mark":{"type":"line"}},{"mark":{"type":"point"},"encoding":{"shape":{"field":"g","type":"nominal","legend":null},"size":{"field":"g","type":"ordinal","scale":{"range":[14,22,14,8,28]},"legend":null}}}]},
   {"width":60,"height":146,"title":{"text":"e","dx":-58,"offset":12},"data":{"name":"d"},
    "transform":[{"filter":"datum.p==='e'"},{"fold":["g1","g2","g3","g4","g5"],"as":["g","v"]}],
    "encoding":{"x":{"field":"x","type":"quantitative","scale":{"domain":[0,2],"nice":false},"axis":{"values":[0,1,2],"title":"BCL (s)"}},
     "y":{"field":"v","type":"quantitative","scale":{"domain":[1.95,2.35],"nice":false,"zero":false},"axis":{"values":[1.95,2.15,2.35],"title":"lPE[MIN] (mm)"}},
     "color":{"field":"g","type":"nominal","legend":null}},
    "layer":[{"mark":{"type":"line"}},{"mark":{"type":"point"},"encoding":{"shape":{"field":"g","type":"nominal","legend":null},"size":{"field":"g","type":"ordinal","scale":{"range":[14,22,14,8,28]},"legend":null}}}]}
 ]},
{"title":{"text":"BCL = 1 s, Ggap = 3 nS","anchor":"middle","frame":"bounds","fontSize":15,"fontWeight":"normal","dx":35,"offset":10},
 "spacing":25,
 "hconcat":[
   {"width":60,"height":146,"title":{"text":"f","dx":-58},"data":{"name":"d"},
    "transform":[{"filter":"datum.p==='f'"},{"fold":["g1","g2","g3","g4","g5"],"as":["g","v"]}],
    "encoding":{"x":{"field":"x","type":"quantitative","scale":{"domain":[0,8],"nice":false},"axis":{"values":[0,4,8],"title":"n Mfbs"}},
     "y":{"field":"v","type":"quantitative","scale":{"domain":[5,10],"nice":false,"zero":false},"axis":{"values":[5,7.5,10],"title":"FSE[MAX] (mN/mm²)"}},
     "color":{"field":"g","type":"nominal","legend":null}},
    "layer":[{"mark":{"type":"line"}},{"mark":{"type":"point"},"encoding":{"shape":{"field":"g","type":"nominal","legend":null},"size":{"field":"g","type":"ordinal","scale":{"range":[14,22,14,8,28]},"legend":null}}}]},
   {"width":60,"height":146,"title":{"text":"g","dx":-60},"data":{"name":"d"},
    "transform":[{"filter":"datum.p==='g'"},{"fold":["g1","g2","g3","g4","g5"],"as":["g","v"]}],
    "encoding":{"x":{"field":"x","type":"quantitative","scale":{"domain":[0,8],"nice":false},"axis":{"values":[0,4,8],"title":"n Mfbs"}},
     "y":{"field":"v","type":"quantitative","scale":{"domain":[0,5],"nice":false,"zero":false},"axis":{"values":[0,2.5,5],"title":"FPE[MIN] (mN/mm²)"}},
     "color":{"field":"g","type":"nominal","legend":null}},
    "layer":[{"mark":{"type":"line"}},{"mark":{"type":"point"},"encoding":{"shape":{"field":"g","type":"nominal","legend":null},"size":{"field":"g","type":"ordinal","scale":{"range":[14,22,14,8,28]},"legend":null}}}]},
   {"width":60,"height":146,"title":{"text":"h","dx":-59},"data":{"name":"d"},
    "transform":[{"filter":"datum.p==='h'"},{"fold":["g1","g2","g3","g4","g5"],"as":["g","v"]}],
    "encoding":{"x":{"field":"x","type":"quantitative","scale":{"domain":[0,8],"nice":false},"axis":{"values":[0,4,8],"title":"n Mfbs"}},
     "y":{"field":"v","type":"quantitative","scale":{"domain":[1.98,2.16],"nice":false,"zero":false},"axis":{"values":[1.98,2.04,2.1,2.16],"title":"lCE[MIN] (mm)"}},
     "color":{"field":"g","type":"nominal","legend":null}},
    "layer":[{"mark":{"type":"line"}},{"mark":{"type":"point"},"encoding":{"shape":{"field":"g","type":"nominal","legend":null},"size":{"field":"g","type":"ordinal","scale":{"range":[14,22,14,8,28]},"legend":null}}}]},
   {"width":60,"height":146,"title":{"text":"i","dx":-27},"data":{"name":"d"},
    "transform":[{"filter":"datum.p==='i'"},{"fold":["g1","g2","g3","g4","g5"],"as":["g","v"]}],
    "encoding":{"x":{"field":"x","type":"quantitative","scale":{"domain":[0,8],"nice":false},"axis":{"values":[0,4,8],"title":"n Mfbs"}},
     "y":{"field":"v","type":"quantitative","scale":{"domain":[0.08,0.11],"nice":false,"zero":false},"axis":{"values":[0.08,0.09,0.1,0.11],"title":"lSE[MAX] (mm)"}},
     "color":{"field":"g","type":"nominal","legend":null}},
    "layer":[{"mark":{"type":"line"}},{"mark":{"type":"point"},"encoding":{"shape":{"field":"g","type":"nominal","legend":null},"size":{"field":"g","type":"ordinal","scale":{"range":[14,22,14,8,28]},"legend":null}}}]},
   {"width":60,"height":146,"title":{"text":"j","dx":-60},"data":{"name":"d"},
    "transform":[{"filter":"datum.p==='j'"},{"fold":["g1","g2","g3","g4","g5"],"as":["g","v"]}],
    "encoding":{"x":{"field":"x","type":"quantitative","scale":{"domain":[0,8],"nice":false},"axis":{"values":[0,4,8],"title":"n Mfbs"}},
     "y":{"field":"v","type":"quantitative","scale":{"domain":[2.08,2.26],"nice":false,"zero":false},"axis":{"values":[2.08,2.14,2.2,2.26],"title":"lPE[MIN] (mm)"}},
     "color":{"field":"g","type":"nominal","legend":null}},
    "layer":[{"mark":{"type":"line"}},{"mark":{"type":"point"},"encoding":{"shape":{"field":"g","type":"nominal","legend":null},"size":{"field":"g","type":"ordinal","scale":{"range":[14,22,14,8,28]},"legend":null}}}]}
 ]}
]},
{"title":{"text":"BCL = 1 s, 2 Mfbs","anchor":"middle","frame":"bounds","fontSize":15,"fontWeight":"normal","dx":35,"offset":7},
 "spacing":25,
 "hconcat":[
   {"width":60,"height":146,"title":{"text":"k","dx":-58,"offset":4},"data":{"name":"d"},
    "transform":[{"filter":"datum.p==='k'"},{"fold":["g1","g2","g3","g4","g5"],"as":["g","v"]}],
    "encoding":{"x":{"field":"x","type":"quantitative","scale":{"domain":[0,8],"nice":false},"axis":{"values":[0,4,8],"title":"Ggap (nS)"}},
     "y":{"field":"v","type":"quantitative","scale":{"domain":[8.8,9.5],"nice":false,"zero":false},"axis":{"values":[8.8,9.15,9.5],"title":"FSE[MAX] (mN/mm²)"}},
     "color":{"field":"g","type":"nominal","legend":null}},
    "layer":[{"mark":{"type":"line"}},{"mark":{"type":"point"},"encoding":{"shape":{"field":"g","type":"nominal","legend":null},"size":{"field":"g","type":"ordinal","scale":{"range":[14,22,14,8,28]},"legend":null}}}]},
   {"width":60,"height":146,"title":{"text":"l","dx":-58,"offset":4},"data":{"name":"d"},
    "transform":[{"filter":"datum.p==='l'"},{"fold":["g1","g2","g3","g4","g5"],"as":["g","v"]}],
    "encoding":{"x":{"field":"x","type":"quantitative","scale":{"domain":[0,8],"nice":false},"axis":{"values":[0,4,8],"title":"Ggap (nS)"}},
     "y":{"field":"v","type":"quantitative","scale":{"domain":[0.4,1.2],"nice":false,"zero":false},"axis":{"values":[0.4,0.8,1.2],"title":"FPE[MIN] (mN/mm²)"}},
     "color":{"field":"g","type":"nominal","legend":null}},
    "layer":[{"mark":{"type":"line"}},{"mark":{"type":"point"},"encoding":{"shape":{"field":"g","type":"nominal","legend":null},"size":{"field":"g","type":"ordinal","scale":{"range":[14,22,14,8,28]},"legend":null}}}]},
   {"width":60,"height":146,"title":{"text":"m","dx":-63,"offset":4},"data":{"name":"d"},
    "transform":[{"filter":"datum.p==='m'"},{"fold":["g1","g2","g3","g4","g5"],"as":["g","v"]}],
    "encoding":{"x":{"field":"x","type":"quantitative","scale":{"domain":[0,8],"nice":false},"axis":{"values":[0,4,8],"title":"Ggap (nS)"}},
     "y":{"field":"v","type":"quantitative","scale":{"domain":[2,2.05],"nice":false,"zero":false},"axis":{"values":[2,2.025,2.05],"title":"lCE[MIN] (mm)"}},
     "color":{"field":"g","type":"nominal","legend":null}},
    "layer":[{"mark":{"type":"line"}},{"mark":{"type":"point"},"encoding":{"shape":{"field":"g","type":"nominal","legend":null},"size":{"field":"g","type":"ordinal","scale":{"range":[14,22,14,8,28]},"legend":null}}}]},
   {"width":60,"height":146,"title":{"text":"n","dx":-29,"offset":4},"data":{"name":"d"},
    "transform":[{"filter":"datum.p==='n'"},{"fold":["g1","g2","g3","g4","g5"],"as":["g","v"]}],
    "encoding":{"x":{"field":"x","type":"quantitative","scale":{"domain":[0,8],"nice":false},"axis":{"values":[0,4,8],"title":"Ggap (nS)"}},
     "y":{"field":"v","type":"quantitative","scale":{"domain":[0.098,0.106],"nice":false,"zero":false},"axis":{"values":[0.098,0.102,0.106],"title":"lSE[MAX] (mm)"}},
     "color":{"field":"g","type":"nominal","legend":null}},
    "layer":[{"mark":{"type":"line"}},{"mark":{"type":"point"},"encoding":{"shape":{"field":"g","type":"nominal","legend":null},"size":{"field":"g","type":"ordinal","scale":{"range":[14,22,14,8,28]},"legend":null}}}]},
   {"width":60,"height":146,"title":{"text":"o","dx":-60,"offset":4},"data":{"name":"d"},
    "transform":[{"filter":"datum.p==='o'"},{"fold":["g1","g2","g3","g4","g5"],"as":["g","v"]}],
    "encoding":{"x":{"field":"x","type":"quantitative","scale":{"domain":[0,8],"nice":false},"axis":{"values":[0,4,8],"title":"Ggap (nS)"}},
     "y":{"field":"v","type":"quantitative","scale":{"domain":[2.1,2.15],"nice":false,"zero":false},"axis":{"values":[2.1,2.125,2.15],"title":"lPE[MIN] (mm)"}},
     "color":{"field":"g","type":"nominal","legend":null}},
    "layer":[{"mark":{"type":"line"}},{"mark":{"type":"point"},"encoding":{"shape":{"field":"g","type":"nominal","legend":null},"size":{"field":"g","type":"ordinal","scale":{"range":[14,22,14,8,28]},"legend":null}}}]}
 ]}
]
}
